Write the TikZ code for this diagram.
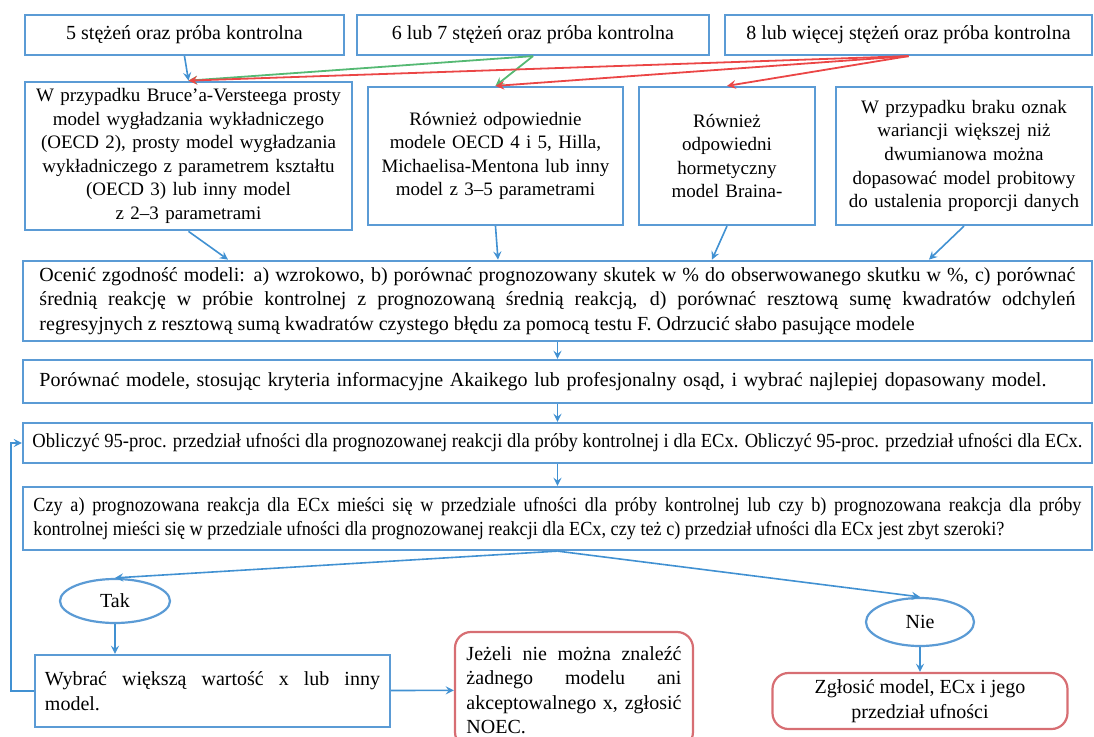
\documentclass[tikz,border=0pt]{standalone}
\usepackage{fontspec}
\setmainfont{Liberation Serif}
\newfontfamily\narrowfont[FakeStretch=0.91]{Liberation Serif}
\newfontfamily\slimfont[FakeStretch=0.93]{Liberation Serif}
\usepackage{tikz}
\usetikzlibrary{shapes.geometric, arrows}
\definecolor{boxblue}{RGB}{91,155,213}
\definecolor{lineblue}{RGB}{65,145,210}
\definecolor{boxred}{RGB}{215,110,115}
\definecolor{linered}{RGB}{235,70,70}
\definecolor{linegreen}{RGB}{85,185,115}
\hyphenpenalty=10000
\exhyphenpenalty=10000
\tikzstyle{countbox} = [rectangle, 
minimum height=20pt, 
text centered, 
draw=boxblue, 
line width=1.1pt,
font=\fontsize{10}{12.25}\selectfont]
\tikzstyle{modelbox} = [rectangle, 
minimum height=69pt, 
inner xsep=2pt,
text centered, 
draw=boxblue, 
line width=1.1pt,
font=\fontsize{9.5}{11.8}\selectfont]
\tikzstyle{widebox} = [rectangle, 
minimum width=534.5pt, 
text width=518pt,
inner xsep=8.25pt,
align=justify, 
draw=boxblue, 
line width=1.1pt,
font=\fontsize{10}{12.25}\selectfont]
\tikzstyle{answer} = [ellipse, 
draw=boxblue, 
line width=1.1pt,
font=\fontsize{10}{12.25}\selectfont]
\tikzstyle{outcome} = [rectangle, 
rounded corners=8pt,
draw=boxred, 
line width=1.1pt,
font=\fontsize{10}{12.25}\selectfont]
\tikzstyle{arrow} = [draw=lineblue, line width=0.8pt, ->, >=stealth]
\tikzstyle{redarrow} = [draw=linered, line width=0.9pt, ->, >=stealth]
\tikzstyle{greenarrow} = [draw=linegreen, line width=0.9pt, ->, >=stealth]

\begin{document}
\begin{tikzpicture}[node distance=30pt]
\useasboundingbox (-278.75pt,150.5pt) rectangle (268.25pt,-217.5pt);

\node (fitting) [widebox, minimum height=38pt] {Ocenić zgodność modeli: a) wzrokowo, b) porównać prognozowany skutek w \% do obserwowanego skutku w \%, c) porównać\linebreak średnią reakcję w próbie kontrolnej z prognozowaną średnią reakcją, d) porównać resztową sumę kwadratów odchyleń\linebreak regresyjnych z resztową sumą kwadratów czystego błędu za pomocą testu F. Odrzucić słabo pasujące modele};

\node (modelA) [modelbox, text width=159.5pt, node distance=72.5pt, above of=fitting, xshift=-184.5pt] {W przypadku Bruce’a-Versteega prosty\\model wygładzania wykładniczego\\(OECD 2), prosty model wygładzania\\wykładniczego z parametrem kształtu\\(OECD 3) lub inny model\\z 2–3 parametrami};
\node (modelB) [modelbox, text width=123.5pt, node distance=153.5pt, right of=modelA] {Również odpowiednie\\modele OECD 4 i 5, Hilla,\\Michaelisa-Mentona lub inny\\model z 3–5 parametrami};
\node (modelC) [modelbox, text width=84pt, node distance=115.75pt, right of=modelB] {Również\\odpowiedni\\hormetyczny\\model Braina-};
\node (modelD) [modelbox, text width=124pt, node distance=118.5pt, right of=modelC] {W przypadku braku oznak\\wariancji większej niż\\dwumianowa można\\dopasować model probitowy\\do ustalenia proporcji danych};

\node (five) [countbox, minimum width=159.5pt, node distance=60.5pt, above of=modelA, xshift=-2pt] {5 stężeń oraz próba kontrolna};
\node (seven) [countbox, minimum width=176pt, node distance=174.25pt, right of=five] {6 lub 7 stężeń oraz próba kontrolna};
\node (eight) [countbox, minimum width=183.5pt, node distance=187.75pt, right of=seven] {8 lub więcej stężeń oraz próba kontrolna};

\node (compare) [widebox, align=left, minimum height=21.5pt, node distance=40.25pt, below of=fitting] {Porównać modele, stosując kryteria informacyjne Akaikego lub profesjonalny osąd, i wybrać najlepiej dopasowany model.};
\node (ci) [countbox, minimum width=534.5pt, font=\fontsize{10}{12.25}\slimfont, node distance=30.75pt, below of=compare] {Obliczyć 95-proc. przedział ufności dla prognozowanej reakcji dla próby kontrolnej i dla ECx. Obliczyć 95-proc. przedział ufności dla ECx.};
\node (check) [widebox, text width=524pt, inner xsep=5.25pt, minimum height=31.5pt, font=\fontsize{10}{12.25}\narrowfont, node distance=37.75pt, below of=ci] {Czy a) prognozowana reakcja dla ECx mieści się w przedziale ufności dla próby kontrolnej lub czy b) prognozowana reakcja dla próby\linebreak kontrolnej mieści się w przedziale ufności dla prognozowanej reakcji dla ECx, czy też c) przedział ufności dla ECx jest zbyt szeroki?};

\node (yes) [answer, minimum width=55pt, minimum height=22pt, node distance=41.25pt, below of=check, xshift=-221.25pt] {Tak};
\node (retry) [widebox, text width=167.5pt, inner xsep=5pt, minimum width=0pt, minimum height=36pt, node distance=45pt, below of=yes, xshift=48.75pt] {Wybrać większą wartość x lub inny\linebreak model.};
\node (noec) [outcome, text width=107.5pt, inner xsep=5.75pt, minimum height=58pt, align=justify, node distance=180.75pt, right of=retry, yshift=0.5pt] {Jeżeli nie można znaleźć\linebreak żadnego modelu ani\linebreak akceptowalnego x, zgłosić\linebreak NOEC.};
\node (no) [answer, minimum width=54pt, minimum height=24pt, node distance=51.75pt, below of=check, xshift=181.25pt] {Nie};
\node (report) [outcome, minimum width=147.5pt, minimum height=21pt, align=center, node distance=39.5pt, below of=no] {Zgłosić model, ECx i jego\\przedział ufności};

\coordinate (inA) at ([xshift=-164.75pt]fitting.north);
\coordinate (inB) at ([xshift=-29.75pt]fitting.north);
\coordinate (inC) at ([xshift=77.25pt]fitting.north);
\coordinate (inD) at ([xshift=185.75pt]fitting.north);

\draw [arrow] (five.south) -- (modelA.north);
\draw [greenarrow] (seven.south) -- (modelA.north);
\draw [greenarrow] (seven.south) -- (modelB.north);
\draw [redarrow] (eight.south) -- (modelA.north);
\draw [redarrow] (eight.south) -- (modelB.north);
\draw [redarrow] (eight.south) -- (modelC.north);
\draw [arrow] (modelA.south) -- (inA);
\draw [arrow] (modelB.south) -- (inB);
\draw [arrow] (modelC.south) -- (inC);
\draw [arrow] (modelD.south) -- (inD);
\draw [arrow] (fitting) -- (compare);
\draw [arrow] (compare) -- (ci);
\draw [arrow] (ci) -- (check);
\draw [arrow] (check.south) -- (yes.north);
\draw [arrow] (check.south) -- (no.north);
\draw [arrow] (yes) -- (yes |- retry.north);
\draw [arrow] (retry) -- (noec);
\draw [arrow] (no) -- (report);
\draw [arrow] (retry.west) -- ++(-11.5pt,0) |- (ci.west);

\end{tikzpicture}
\end{document}
